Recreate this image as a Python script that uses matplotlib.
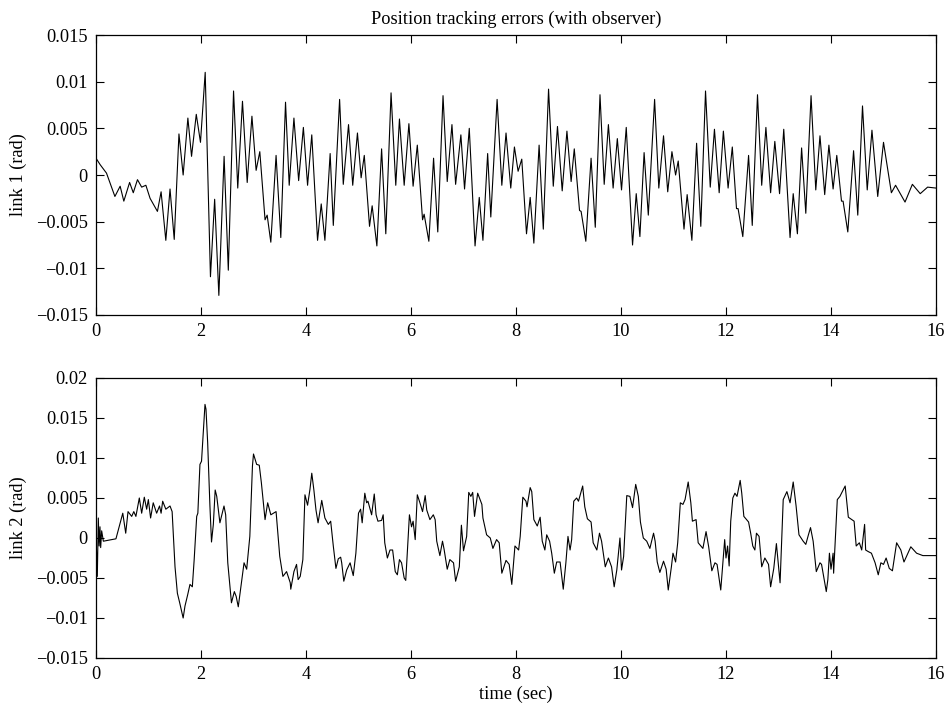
import numpy as np
import matplotlib
matplotlib.use("Agg")
from matplotlib import pyplot as plt
from matplotlib.ticker import FuncFormatter

plt.rcParams['font.family'] = ['Liberation Serif', 'DejaVu Serif']
plt.rcParams['font.size'] = 13.2

# link 1 position error (1e-3 rad)
t1 = [0.0, 0.08, 0.20, 0.36, 0.46, 0.53, 0.64, 0.71, 0.79, 0.87, 0.95, 1.03, 1.12, 1.17,
      1.24, 1.33, 1.41, 1.49, 1.58, 1.66, 1.75, 1.82, 1.91, 1.99, 2.08, 2.18, 2.26, 2.34,
      2.44, 2.52, 2.62, 2.70, 2.79, 2.88, 2.97, 3.05, 3.12, 3.22, 3.26, 3.33, 3.43, 3.52,
      3.61, 3.68, 3.77, 3.86, 3.95, 4.03, 4.11, 4.22, 4.29, 4.36, 4.46, 4.52, 4.64, 4.71,
      4.81, 4.89, 4.98, 5.05, 5.11, 5.21, 5.26, 5.35, 5.44, 5.52, 5.62, 5.71, 5.78, 5.87,
      5.96, 6.04, 6.12, 6.22, 6.25, 6.34, 6.43, 6.51, 6.61, 6.69, 6.78, 6.85, 6.95, 7.02,
      7.11, 7.22, 7.30, 7.37, 7.46, 7.52, 7.64, 7.73, 7.81, 7.90, 7.97, 8.04, 8.11, 8.20,
      8.27, 8.34, 8.44, 8.52, 8.62, 8.71, 8.79, 8.88, 8.97, 9.05, 9.11, 9.21, 9.24, 9.33,
      9.43, 9.51, 9.60, 9.68, 9.76, 9.85, 9.93, 10.01, 10.10, 10.22, 10.29, 10.36, 10.44,
      10.52, 10.64, 10.72, 10.81, 10.89, 10.97, 11.04, 11.09, 11.20, 11.26, 11.35, 11.44,
      11.52, 11.61, 11.70, 11.78, 11.87, 11.95, 12.04, 12.12, 12.20, 12.23, 12.32, 12.43,
      12.50, 12.60, 12.68, 12.76, 12.85, 12.93, 13.02, 13.10, 13.22, 13.28, 13.36, 13.44,
      13.52, 13.62, 13.71, 13.79, 13.88, 13.96, 14.04, 14.11, 14.20, 14.23, 14.32, 14.43,
      14.51, 14.60, 14.69, 14.78, 14.89, 15.00, 15.15, 15.23, 15.41, 15.55, 15.70, 15.84,
      16.0]
e1 = [1.8, 1.1, 0.2, -2.3, -1.2, -2.8, -0.8, -1.9, -0.5, -1.3, -1.1, -2.5, -3.4, -3.9,
      -1.8, -7.0, -1.5, -6.9, 4.4, 0.0, 6.1, 2.0, 6.5, 3.5, 11.0, -10.9, -2.6, -12.9,
      2.0, -10.2, 9.0, -1.4, 7.9, -0.8, 6.3, 0.5, 2.5, -4.8, -4.3, -7.2, 2.1, -6.7,
      7.8, -1.1, 6.1, -0.6, 5.1, -1.1, 4.3, -7.0, -3.1, -7.0, 2.3, -5.4, 8.1, -1.0,
      5.4, -1.1, 4.5, -0.3, 2.1, -5.5, -3.3, -7.6, 2.8, -6.3, 8.8, -1.1, 6.0, -1.1,
      5.5, -1.2, 3.2, -4.8, -4.2, -7.1, 1.8, -6.1, 8.5, -0.7, 5.4, -1.0, 4.3, -1.5,
      5.0, -7.6, -2.4, -7.0, 2.3, -4.5, 8.1, -1.1, 4.5, -1.4, 3.0, 0.4, 1.7, -6.3,
      -2.4, -7.3, 3.2, -5.8, 9.2, -1.2, 5.2, -1.7, 4.7, -0.7, 2.8, -3.8, -3.9, -7.1,
      1.8, -5.6, 8.6, -1.0, 5.4, -1.4, 3.9, -1.6, 5.1, -7.5, -2.0, -6.6, 2.4,
      -4.3, 8.1, -1.4, 4.2, -1.8, 2.5, 0.0, 1.5, -5.8, -2.1, -7.0, 3.4,
      -5.5, 9.0, -1.3, 4.9, -1.9, 4.7, -1.4, 3.0, -3.6, -3.6, -6.6, 2.1,
      -5.4, 8.6, -1.1, 5.1, -1.9, 3.6, -2.0, 4.9, -6.7, -2.0, -6.3, 2.9,
      -4.1, 8.5, -1.6, 4.2, -2.1, 3.2, -1.5, 2.1, -2.8, -2.8, -6.1, 2.6,
      -4.3, 7.4, -1.6, 4.8, -2.3, 3.5, -1.9, -1.1, -2.9, -1.0, -2.0, -1.3,
      -1.4]

# link 2 position error (1e-3 rad)
t2 = [0.0, 0.025, 0.044, 0.06, 0.076, 0.089, 0.108, 0.14, 0.38, 0.51, 0.566, 0.61, 0.68,
      0.72, 0.76, 0.825, 0.87, 0.92, 0.965, 0.997, 1.04, 1.09, 1.155, 1.21, 1.24, 1.27,
      1.33, 1.41, 1.45, 1.505, 1.55, 1.594, 1.66, 1.695, 1.746, 1.79, 1.835, 1.87, 1.918,
      1.94, 1.98, 2.01, 2.076, 2.095, 2.127, 2.17, 2.2, 2.235, 2.27, 2.30, 2.36, 2.438,
      2.47, 2.51, 2.58, 2.635, 2.67, 2.71, 2.77, 2.82, 2.87, 2.93, 2.98, 3.0, 3.06, 3.11,
      3.15, 3.22, 3.27, 3.33, 3.43, 3.50, 3.56, 3.63, 3.70, 3.71, 3.77, 3.82, 3.85, 3.89,
      3.94, 3.98, 4.03, 4.076, 4.11, 4.15, 4.19, 4.23, 4.30, 4.36, 4.425, 4.47, 4.52,
      4.57, 4.615, 4.66, 4.68, 4.72, 4.775, 4.84, 4.90, 4.95, 5.0, 5.04, 5.07, 5.12,
      5.155, 5.18, 5.25, 5.30, 5.335, 5.37, 5.44, 5.47, 5.50, 5.55, 5.60, 5.65, 5.70,
      5.74, 5.78, 5.82, 5.87, 5.90, 5.97, 6.01, 6.04, 6.08, 6.12, 6.17, 6.22, 6.27, 6.30,
      6.36, 6.425, 6.46, 6.49, 6.55, 6.60, 6.63, 6.69, 6.74, 6.81, 6.85, 6.92, 6.96, 7.00,
      7.06, 7.10, 7.14, 7.175, 7.21, 7.27, 7.35, 7.37, 7.44, 7.51, 7.56, 7.63, 7.68, 7.73,
      7.81, 7.87, 7.92, 7.98, 8.05, 8.08, 8.13, 8.19, 8.21, 8.27, 8.30, 8.34, 8.405, 8.46,
      8.50, 8.55, 8.585, 8.64, 8.68, 8.73, 8.775, 8.84, 8.90, 8.95, 8.99, 9.03, 9.06, 9.10,
      9.155, 9.19, 9.27, 9.31, 9.36, 9.43, 9.47, 9.54, 9.59, 9.63, 9.70, 9.76, 9.82, 9.87,
      9.92, 9.98, 10.01, 10.05, 10.11, 10.17, 10.22, 10.28, 10.33, 10.37, 10.425, 10.49,
      10.55, 10.62, 10.65, 10.69, 10.74, 10.81, 10.86, 10.90, 10.96, 10.99, 11.04, 11.08,
      11.13, 11.18, 11.22, 11.28, 11.33, 11.36, 11.43, 11.47, 11.56, 11.62, 11.67, 11.73,
      11.79, 11.83, 11.90, 11.975, 12.0, 12.03, 12.06, 12.09, 12.13, 12.17, 12.21, 12.27,
      12.30, 12.34, 12.43, 12.47, 12.51, 12.55, 12.58, 12.63, 12.68, 12.74, 12.81, 12.85,
      12.91, 12.96, 13.03, 13.09, 13.16, 13.22, 13.28, 13.335, 13.39, 13.47, 13.52, 13.57,
      13.61, 13.66, 13.72, 13.79, 13.82, 13.91, 13.94, 13.97, 14.0, 14.04, 14.05, 14.12,
      14.17, 14.20, 14.27, 14.33, 14.44, 14.48, 14.54, 14.585, 14.64, 14.66, 14.71, 14.77,
      14.84, 14.90, 14.95, 15.0, 15.05, 15.11, 15.17, 15.25, 15.33, 15.39, 15.52, 15.63,
      15.75, 16.0]
e2 = [0.5, -4.8, 2.5, -1.0, 1.4, -1.2, 0.9, -0.4, -0.1, 3.1, 0.6, 3.3, 2.7,
      3.3, 2.7, 5.0, 3.1, 5.1, 3.6, 4.8, 2.5, 4.4, 3.1, 4.0, 3.1, 4.6,
      3.6, 4.0, 3.3, -3.6, -6.9, -8.1, -10.0, -8.5, -7.1, -5.8, -6.1, -2.7, 2.7,
      3.1, 9.2, 9.6, 16.7, 16.1, 11.9, 4.0, -0.5, 1.7, 6.0, 5.2, 1.9, 4.0,
      2.9, -3.1, -8.1, -6.7, -7.3, -8.6, -5.6, -3.1, -3.9, 0.2, 9.0, 10.5, 9.2, 9.1,
      6.9, 2.3, 4.4, 2.9, 3.3, -2.3, -4.8, -4.2, -5.6, -6.4, -4.2, -3.3, -5.2, -4.8,
      -2.7, 5.4, 4.1, 6.1, 8.1, 6.0, 3.5, 1.9, 4.7, 2.5, 1.7, 2.1, -1.0,
      -3.8, -2.6, -2.4, -3.1, -5.4, -4.0, -3.1, -4.7, -1.9, 3.1, 3.6, 1.9, 5.6,
      4.4, 4.6, 2.9, 5.5, 2.9, 2.1, 2.2, 2.9, -0.6, -2.5, -1.5, -1.5, -4.2,
      -4.6, -2.7, -3.1, -5.0, -5.3, 2.9, 1.4, 2.1, -0.2, 5.4, 4.4, 3.3, 5.3, 3.5,
      2.3, 2.9, 2.3, -0.4, -2.2, -0.4, -1.4, -3.9, -2.7, -3.1, -5.4, -3.6, 1.6, -1.6,
      0.2, 5.7, 5.2, 5.7, 2.7, 5.6, 4.2, 2.5, 0.4, 0.0, -1.3, -0.2, -0.6, -4.4,
      -2.8, -3.3, -5.8, -1.0, -1.5, 0.2, 5.1, 4.6, 3.9, 6.3, 5.8, 2.3, 1.5, 2.6,
      -0.4, -1.5, 0.4, -0.4, -1.9, -4.4, -3.0, -3.0, -6.4, -3.1, 0.2, -1.5, -0.2, 4.6,
      5.0, 4.6, 6.5, 3.9, 2.4, 2.0, -0.6, -1.5, 0.6, -0.4, -3.6, -2.5, -3.6, -6.1,
      -4.0, 0.0, -4.0, -2.3, 5.3, 5.2, 3.8, 6.7, 5.2, 2.0, 0.0, -0.4,
      -1.3, 0.6, -0.4, -3.0, -4.3, -2.9, -3.9, -6.5, -3.6, -1.9, -3.0, -0.6,
      4.4, 4.2, 4.8, 7.0, 4.4, 2.1, 2.3, -0.6, -1.3, 0.8, -1.1, -4.1,
      -3.1, -3.3, -6.5, -0.2, -2.5, -1.0, -3.5, 2.1, 5.0, 5.6, 5.2, 7.2,
      5.6, 2.7, 2.0, 0.6, -1.0, -1.5, 0.6, 0.2, -3.6, -2.5, -3.3, -6.1,
      -3.8, -0.7, -5.6, 4.8, 5.8, 4.4, 7.0, 4.0, 0.4, -0.4, -0.8, 0.4,
      1.3, -0.4, -4.2, -3.1, -3.3, -6.7, -5.2, -1.9, -3.9, -1.9, -4.4, 4.8,
      5.2, 5.6, 6.5, 2.6, 2.1, -1.0, -0.6, -1.5, 1.7, -1.5, -1.7, -1.9,
      -3.1, -4.6, -3.1, -3.3, -2.5, -3.8, -4.1, -0.6, -1.5, -3.0, -1.1, -1.9,
      -2.2, -2.2]

xticks = np.arange(0, 17, 2)
yticks1 = np.arange(-0.015, 0.0151, 0.005)
yticks2 = np.arange(-0.015, 0.0201, 0.005)


def fmt(v, pos):
    if abs(v) < 1e-9:
        return '0'
    return ('%g' % round(v, 4)).replace('-', '\u2212')


def style(ax, yt, ylim):
    ax.set_xlim(0, 16)
    ax.set_ylim(*ylim)
    ax.set_xticks(xticks)
    ax.set_yticks(yt)
    ax.yaxis.set_major_formatter(FuncFormatter(fmt))
    ax.tick_params(direction='in', length=6, width=0.8, top=True, right=True,
                   labelsize=13.2, pad=6)
    for s in ax.spines.values():
        s.set_linewidth(0.9)


fig = plt.figure(figsize=(9.51, 7.11), dpi=100)
ax1 = fig.add_axes([96 / 951, 1 - 315 / 711, 840 / 951, 280 / 711])
ax2 = fig.add_axes([96 / 951, 1 - 658 / 711, 840 / 951, 280 / 711])

ax1.plot(t1, np.array(e1) * 1e-3, color='black', lw=0.8)
style(ax1, yticks1, (-0.015, 0.015))
ax1.set_ylabel('link 1 (rad)', labelpad=6)
ax1.set_title('Position tracking errors (with observer)', fontsize=13.2, pad=8)

ax2.plot(t2, np.array(e2) * 1e-3, color='black', lw=0.8)
style(ax2, yticks2, (-0.015, 0.02))
ax2.set_ylabel('link 2 (rad)', labelpad=6)
ax2.set_xlabel('time (sec)', labelpad=2)

fig.savefig('out.png', dpi=100)
